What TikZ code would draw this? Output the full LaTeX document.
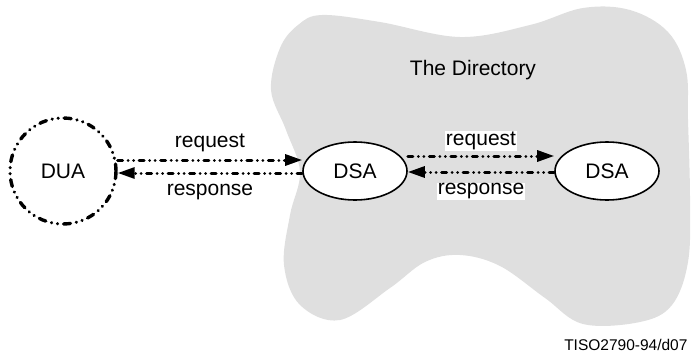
\documentclass[tikz,border=0pt]{standalone}
\usepackage{fontspec}
\setmainfont{Liberation Sans}
\usetikzlibrary{shapes.geometric,arrows.meta}

\begin{document}
\begin{tikzpicture}[
            x=1pt, y=-1pt,
            node distance=252pt,
            font=\fontsize{21}{25}\selectfont,
            dua/.style={circle, draw, line width=3.4pt, line cap=round, minimum size=106pt,
                dash pattern=on 7pt off 6pt on 0.01pt off 6pt on 0.01pt off 6pt},
            dsa/.style={ellipse, draw, fill=white, line width=1.6pt, minimum width=104pt, minimum height=58pt},
            arrow/.style={-{Triangle[length=17pt,width=11pt]}, line width=3pt, line cap=round,
                dash pattern=on 5pt off 5.5pt on 0.01pt off 5.5pt on 0.01pt off 5.5pt},
            lbl/.style={fill=white, inner sep=1pt}
        ]
            \useasboundingbox (0,0) rectangle (692,356);
            % The Directory
            \fill[gray!25] plot[smooth cycle, tension=0.6] coordinates {
                (322,15) (380,22) (460,37) (530,25) (583,8) (630,10) (668,32) (686,70)
                (688,120) (690,200) (688,262) (672,305) (640,322) (583,324) (545,298)
                (500,266) (460,255) (425,262) (390,288) (340,320) (300,305) (284,265)
                (290,215) (300,172) (286,130) (271,90) (280,48) (298,25)};
            \node (dir) at (473,70) {The Directory};

            % Nodes
            \node[dua] (dua) at (63,171) {DUA};
            \node[dsa, right of=dua, xshift=40pt] (dsa) {DSA};
            \node[dsa, right of=dsa] (dsa2) {DSA};

            % Arrows
            \draw[arrow] ([yshift=11pt]dua.east) -- node[above=3pt] {request} ([yshift=11pt]dsa.west);
            \draw[arrow] ([yshift=-2pt]dsa.west) -- node[below=6pt] {response} ([yshift=-2pt]dua.east);
            \draw[arrow] ([yshift=15pt]dsa.east) -- node[lbl, above=4pt] {request} ([yshift=15pt]dsa2.west);
            \draw[arrow] ([yshift=-1pt]dsa2.west) -- node[lbl, below=9pt] {response} ([yshift=-1pt]dsa.east);

            \node[anchor=south east, font=\fontsize{15.5}{18}\selectfont] (fig) at (691,354) {TISO2790-94/d07};
        \end{tikzpicture}
\end{document}
